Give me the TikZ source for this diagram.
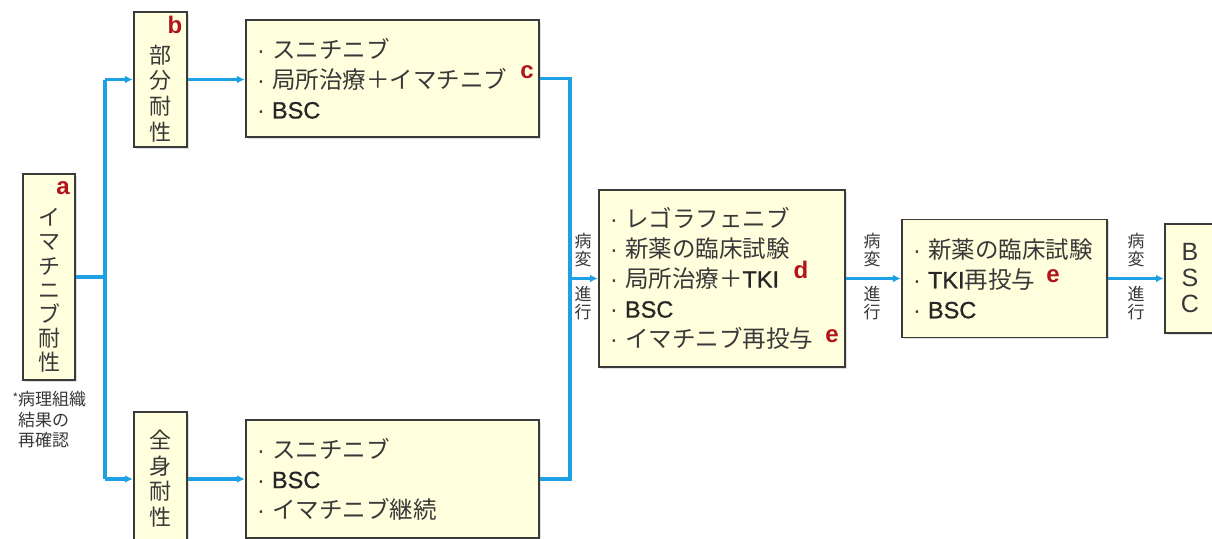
\documentclass[tikz,border=0pt]{standalone}
\usepackage{fontspec}
\setmainfont{Noto Sans CJK JP}
\newfontfamily\latf{Liberation Sans}
\newfontfamily\latbf[FakeBold=0.9]{Liberation Sans}
\usetikzlibrary{arrows.meta,shadows}
\definecolor{boxfill}{HTML}{FFFFDD}
\definecolor{boxdraw}{HTML}{3A3A3A}
\definecolor{flowc}{HTML}{1DA1E4}
\definecolor{markc}{HTML}{B0141C}
\definecolor{txtc}{HTML}{383838}
\newcommand\LatTxt[1]{{\latbf\color{black!85}#1}}
\newcommand\Bul{\makebox[16pt][l]{\latf\hspace{1pt}·}}
\begin{document}
\begin{tikzpicture}[x=1pt,y=-1pt,
  box/.style={draw=boxdraw, line width=1.4pt, fill=boxfill,
    drop shadow={opacity=0.25,shadow xshift=1.5pt,shadow yshift=-1.5pt},
    inner sep=0pt, text=txtc},
  listbox/.style={box, align=left, font=\fontsize{23.5}{30}\selectfont},
  vtext/.style={align=center, inner sep=0pt, text=txtc, font=\fontsize{22}{25}\selectfont},
  smalllab/.style={align=center, inner sep=0pt, text=txtc, font=\fontsize{17}{18.5}\selectfont},
  redmark/.style={inner sep=0pt, text=markc, font=\latf\bfseries\fontsize{24}{24}\selectfont},
  flow/.style={draw=flowc, line width=3.2pt, line join=miter},
  flowarr/.style={flow, -{Latex[length=8pt,width=8pt]}, shorten >=0.5pt},
]
\fill[white] (0,0) rectangle (1212,538);
\useasboundingbox (0,0) rectangle (1212,538);
\clip (0,0) rectangle (1212,538);

% boxes
\node[box, minimum width=52pt, minimum height=206pt] (a) at (49,277) {};
\node[vtext, font=\fontsize{22}{24.2}\selectfont] (atext) at (49,290.5) {イ\\マ\\チ\\ニ\\ブ\\耐\\性};
\node[redmark] (amark) at (63,188) {a};

\node[box, minimum width=53pt, minimum height=135pt] (b) at (160.5,79.5) {};
\node[vtext, font=\fontsize{22}{25.7}\selectfont] (btext) at (160.5,93.5) {部\\分\\耐\\性};
\node[redmark] (bmark) at (175,25) {b};

\node[listbox, minimum width=293pt, minimum height=117pt, text width=273pt] (c) at (392.5,78.5)
  {\Bul スニチニブ\\\Bul 局所治療＋イマチニブ\\\Bul \LatTxt{BSC}};
\node[redmark] (cmark) at (527,72) {c};

\node[box, minimum width=53pt, minimum height=134pt] (g) at (160.5,479) {};
\node[vtext, font=\fontsize{22}{25.7}\selectfont] (gtext) at (160.5,478.5) {全\\身\\耐\\性};

\node[listbox, minimum width=293pt, minimum height=118pt, text width=273pt] (h) at (392.5,479)
  {\Bul スニチニブ\\\Bul \LatTxt{BSC}\\\Bul イマチニブ継続};

\node[listbox, minimum width=246pt, minimum height=177pt, text width=226pt] (d) at (722,278.5)
  {\Bul レゴラフェニブ\\\Bul 新薬の臨床試験\\\Bul 局所治療＋\LatTxt{TKI}\\\Bul \LatTxt{BSC}\\\Bul イマチニブ再投与};
\node[redmark] (dmark) at (801,270) {d};
\node[redmark] (emark1) at (832,336) {e};

\node[listbox, minimum width=205pt, minimum height=118pt, text width=185pt] (e) at (1004.5,278.5)
  {\Bul 新薬の臨床試験\\\Bul \LatTxt{TKI}再投与\\\Bul \LatTxt{BSC}};
\node[redmark] (emark2) at (1053,276) {e};

\node[box, align=center, minimum width=50pt, minimum height=109pt,
  font=\latf\fontsize{25}{26}\selectfont] (f) at (1190,278.5) {B\\S\\C};

% footnote
\node[anchor=north west, align=left, inner sep=0pt, text=txtc, font=\fontsize{17}{20.5}\selectfont] (note) at (18,391)
  {\llap{\raisebox{3pt}{\fontsize{12}{12}\selectfont *}}病理組織\\結果の\\再確認};

% junctions
\coordinate (jl) at (105,277);
\coordinate (jr) at (570,278.5);

% connectors
\draw[flow] (a.east) -- (jl);
\draw[flow] (jl |- b.west) -- (jl |- g.west);
\draw[flowarr] (jl |- b.west) -- (b.west);
\draw[flowarr] (jl |- g.west) -- (g.west);
\draw[flowarr] (b.east) -- (b.east -| c.west);
\draw[flowarr] (g.east) -- (g.east -| h.west);
\draw[flow] (c.east) -- (c.east -| jr) -- (h.east -| jr) -- (h.east);
\draw[flowarr] (jr) -- (d.west);
\draw[flowarr] (d.east) -- (e.west);
\draw[flowarr] (e.east) -- (f.west);

% progression labels
\node[smalllab] (p1a) at (583,250) {病\\変};
\node[smalllab] (p1b) at (583,303) {進\\行};
\node[smalllab] (p2a) at (872,250) {病\\変};
\node[smalllab] (p2b) at (872,303) {進\\行};
\node[smalllab] (p3a) at (1136,250) {病\\変};
\node[smalllab] (p3b) at (1136,303) {進\\行};
\end{tikzpicture}
\end{document}
